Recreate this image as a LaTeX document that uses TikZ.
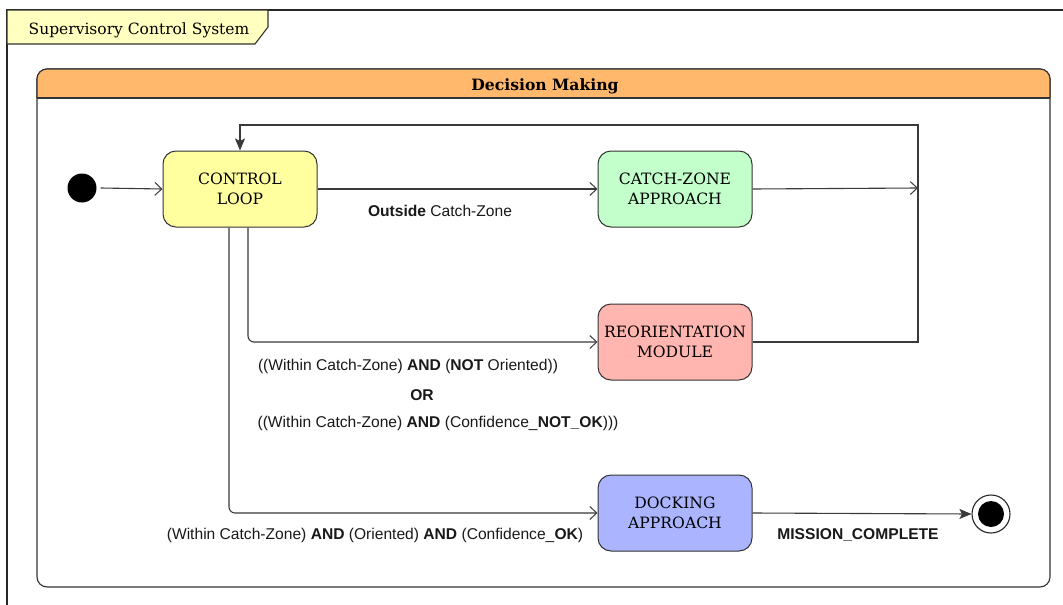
\documentclass[tikz,border=0pt]{standalone}
\usepackage{fontspec}
\setmainfont{DejaVu Serif}
\newfontfamily\labfont{Liberation Sans}
\usetikzlibrary{arrows.meta}
\definecolor{tabyellow}{HTML}{FFFFC0}
\definecolor{hdrorange}{HTML}{FFB86C}
\definecolor{ctrlfill}{HTML}{FFFFA0}
\definecolor{czfill}{HTML}{C2FFCA}
\definecolor{reofill}{HTML}{FFB5B0}
\definecolor{dockfill}{HTML}{ABB5FF}
\definecolor{edgegray}{HTML}{3A3A3A}
\tikzset{
  statebox/.style={draw=black!80, line width=1pt, rounded corners=13pt,
    minimum width=154pt, minimum height=76pt, align=center, inner sep=2pt,
    font=\fontsize{15.6}{19.5}\selectfont},
  flow/.style={draw=edgegray, line width=1.1pt},
  opentip/.style={-{Straight Barb[length=7pt,width=13pt,line width=1pt]}},
  solidtip/.style={-{Stealth[length=12pt,width=10pt,inset=2.5pt]}},
  lbl/.style={font=\labfont\fontsize{15.6}{18}\selectfont, text=black!90, inner sep=0pt}
}
\begin{document}
\begin{tikzpicture}[x=1pt,y=-1pt]
\useasboundingbox (0,0) rectangle (1063,605);
% outer frame
\draw[line width=1.2pt, black!85] (1063,10) -- (7,10) -- (7,605);
\draw[line width=1.1pt, black!80, fill=tabyellow] (7,10) -- (268,10) -- (268,27) -- (255,44) -- (7,44) -- cycle;
\node[font=\fontsize{15.5}{18}\selectfont, inner sep=0pt] (systitle) at (139,30) {Supervisory Control System};
% container
\draw[line width=1.1pt, black!80, fill=white, rounded corners=10pt] (37,69) rectangle (1050,587);
\fill[hdrorange] (37,98) {[rounded corners=10pt] -- (37,69) -- (1050,69)} -- (1050,98) -- cycle;
\draw[line width=1.1pt, black!80, rounded corners=10pt] (37,98) -- (37,69) -- (1050,69) -- (1050,98);
\draw[line width=1.1pt, black!80] (37,98) -- (1050,98);
\node[font=\bfseries\fontsize{15.6}{18}\selectfont, inner sep=0pt] (dmtitle) at (545,86) {Decision Making};
% states
\node[circle, fill=black, minimum size=29pt, inner sep=0pt] (init) at (82,188) {};
\node[statebox, fill=ctrlfill] (ctrl) at (240,189) {CONTROL\\LOOP};
\node[statebox, fill=czfill] (cz) at (675,189) {CATCH-ZONE\\APPROACH};
\node[statebox, fill=reofill] (reo) at (675,342) {REORIENTATION\\MODULE};
\node[statebox, fill=dockfill] (dock) at (675,513) {DOCKING\\APPROACH};
\node[circle, draw=black!85, line width=1.1pt, fill=white, minimum size=38pt, inner sep=0pt] (fin) at (991,514) {};
\node[circle, fill=black, minimum size=26pt, inner sep=0pt] (finin) at (fin.center) {};
% junction coordinates
\coordinate (jcz) at (918,188);
\coordinate (jtop) at (918,125);
% connectors
\draw[flow, opentip] (init.east) ++(4pt,0) coordinate (initout) (initout) -- (ctrl.west);
\draw[flow, opentip] (ctrl.east) -- (cz.west);
\draw[flow, opentip] (cz.east) -- (jcz);
\draw[flow, solidtip] (reo.east) -| (jtop) -| (ctrl.north);
\draw[flow, opentip, rounded corners=6pt] ([xshift=8pt]ctrl.south) |- (reo.west);
\draw[flow, opentip, rounded corners=6pt] ([xshift=-11pt]ctrl.south) |- (dock.west);
\draw[flow, solidtip] (dock.east) -- (fin.west);
% labels
\node[lbl] (l1) at (440,211) {\textbf{Outside} Catch-Zone};
\node[lbl] (l2) at (408,366) {((Within Catch-Zone) \textbf{AND} (\textbf{NOT} Oriented))};
\node[lbl] (l3) at (422,395) {\textbf{OR}};
\node[lbl] (l4) at (438,423) {((Within Catch-Zone) \textbf{AND} (Confidence\_\textbf{NOT\_OK})))};
\node[lbl] (l5) at (375,535) {(Within Catch-Zone) \textbf{AND} (Oriented) \textbf{AND} (Confidence\_\textbf{OK})};
\node[lbl] (l6) at (858,535) {\textbf{MISSION\_COMPLETE}};
\end{tikzpicture}
\end{document}
